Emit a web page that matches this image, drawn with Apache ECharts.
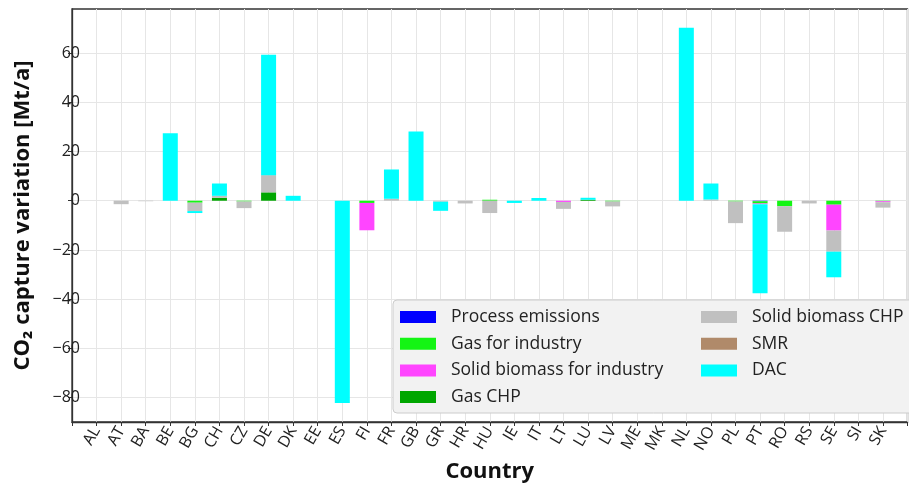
<!DOCTYPE html>
<html>
<head>
<meta charset="utf-8">
<script src="https://cdn.jsdelivr.net/npm/echarts@6/dist/echarts.min.js"></script>
<style>
  html, body { margin: 0; padding: 0; background: #fff; }
  #chart { width: 909px; height: 488px; }
</style>
</head>
<body>
<div id="chart"></div>
<script>
const countries = ["AL", "AT", "BA", "BE", "BG", "CH", "CZ", "DE", "DK", "EE",
  "ES", "FI", "FR", "GB", "GR", "HR", "HU", "IE", "IT", "LT",
  "LU", "LV", "ME", "MK", "NL", "NO", "PL", "PT", "RO", "RS",
  "SE", "SI", "SK"];

// CO2 capture variation per technology [Mt/a]
const processEmissions = [0, 0, 0, 0, 0, 0, 0, 0, 0, 0,
  0, 0, 0, 0, 0, 0, 0, 0, 0, 0,
  0, 0, 0, 0, 0, 0, 0, -0.2, 0, 0,
  0, 0, 0];
const gasIndustry = [0, 0, 0, 0, -0.8, 0, -0.3, 0, 0, 0,
  0, -0.9, 0, 0, 0, 0, 0.4, 0, 0, 0,
  0, -0.3, 0, 0, 0, 0, -0.3, -0.9, -2.2, 0,
  -1.6, 0, -0.2];
const solidBiomassIndustry = [0, 0, 0, 0, 0, 0, 0, 0, 0, 0,
  0, -11.1, 0, 0, 0, 0, 0, 0, 0, -0.5,
  0, 0, 0, 0, 0, 0, 0, -0.3, 0, 0,
  -10.5, 0, -0.4];
const gasChp = [0, 0, 0, 0, 0, 1.2, 0, 3.4, 0, 0,
  0, 0, 0, 0, 0, 0, 0, 0, 0, 0,
  0.4, 0, 0, 0, 0, 0, 0, 0, 0, 0,
  0, 0, 0];
const solidBiomassChp = [0, -1.4, -0.2, 0, -3.4, 0.8, -2.7, 7.0, 0, 0,
  0, 0, 0.8, 0, -0.4, -1.1, -5.0, 0, 0, -2.8,
  0, -2.0, 0, 0, 0, 0.5, -8.8, 0, -10.4, -1.1,
  -8.6, 0, -2.2];
const smr = [0, 0, 0, 0, 0, 0, 0, 0, 0, 0,
  0, 0, 0, 0, 0, 0, 0, 0, 0, 0,
  0, 0, 0, 0, 0, 0, 0, 0, 0, 0,
  0, 0, 0];
const dac = [0, 0, 0, 27.4, -0.8, 5.0, 0, 48.9, 2.0, 0,
  -82.2, 0, 11.9, 28.1, -3.7, 0, 0, -0.9, 1.1, 0,
  0.8, 0, 0, 0, 70.3, 6.5, 0, -36.2, 0, 0,
  -10.4, 0, 0];

const yTicks = [-80, -60, -40, -20, 0, 20, 40, 60];

const seriesDefs = [
  { name: "Process emissions", data: processEmissions, color: "#0000ff" },
  { name: "Gas for industry", data: gasIndustry, color: "#14f514" },
  { name: "Solid biomass for industry", data: solidBiomassIndustry, color: "#ff45ff" },
  { name: "Gas CHP", data: gasChp, color: "#00a600" },
  { name: "Solid biomass CHP", data: solidBiomassChp, color: "#c0c0c0" },
  { name: "SMR", data: smr, color: "#b08a6a" },
  { name: "DAC", data: dac, color: "#00ffff" },
];

// one empty slot on each side, like the matplotlib x limits
const axisCats = [""].concat(countries, [""]);
const pad = (arr) => [null].concat(arr, [null]);

const font = "Open Sans";
const legendText = { fontSize: 17.5, color: "#222", lineHeight: 16, padding: [0, 0, 0, 10], fontFamily: font };
const chart = echarts.init(document.getElementById("chart"));

chart.setOption({
  animation: false,
  textStyle: { fontFamily: font },
  grid: {
    left: 72, top: 9, width: 850, height: 413,
    show: true, borderColor: "#333", borderWidth: 1.3, backgroundColor: "transparent",
  },
  graphic: [{
    type: "rect",
    shape: { x: 393, y: 300, width: 530, height: 113, r: 4 },
    style: { fill: "#f2f2f2", stroke: "#cccccc", lineWidth: 1 },
    z: 100,
  }],
  legend: [
    {
      data: seriesDefs.slice(0, 4).map((s) => s.name),
      orient: "vertical", left: 400, top: 308, padding: 0,
      itemWidth: 36, itemHeight: 12, itemGap: 8.7, icon: "rect",
      selectedMode: false, z: 110,
      textStyle: legendText,
    },
    {
      data: seriesDefs.slice(4).map((s) => s.name),
      orient: "vertical", left: 701, top: 308, padding: 0,
      itemWidth: 36, itemHeight: 12, itemGap: 8.7, icon: "rect",
      selectedMode: false, z: 110,
      textStyle: legendText,
    },
  ],
  xAxis: {
    type: "category",
    data: axisCats,
    boundaryGap: false,
    name: "Country",
    nameLocation: "middle",
    nameGap: 39,
    nameTextStyle: { fontSize: 22, fontWeight: "bold", color: "#111", fontFamily: font },
    axisLine: { onZero: false, lineStyle: { color: "#333", width: 1.3 } },
    axisTick: { show: true, length: 4, inside: false, lineStyle: { color: "#333" } },
    axisLabel: { rotate: 60, fontSize: 16, color: "#222", margin: 6, interval: 0 },
    splitLine: { show: true, lineStyle: { color: "#e6e6e6", width: 1 } },
  },
  yAxis: {
    type: "value",
    min: -89.9,
    max: 77.9,
    name: "CO\u2082 capture variation [Mt/a]",
    nameLocation: "middle",
    nameGap: 38,
    nameTextStyle: { fontSize: 22, fontWeight: "bold", color: "#111", fontFamily: font },
    axisLine: { show: true, lineStyle: { color: "#333", width: 1.3 } },
    axisTick: { show: true, length: 4, customValues: yTicks, lineStyle: { color: "#333" } },
    axisLabel: {
      customValues: yTicks,
      fontSize: 16, color: "#222", margin: -8,
      formatter: (v) => String(v).replace("-", "\u2212"),
    },
    splitLine: { show: true, lineStyle: { color: "#e6e6e6", width: 1 } },
  },
  series: seriesDefs.map((s) => ({
    name: s.name,
    type: "bar",
    stack: "total",
    barWidth: 15,
    data: pad(s.data),
    itemStyle: { color: s.color },
  })),
});
</script>
</body>
</html>
